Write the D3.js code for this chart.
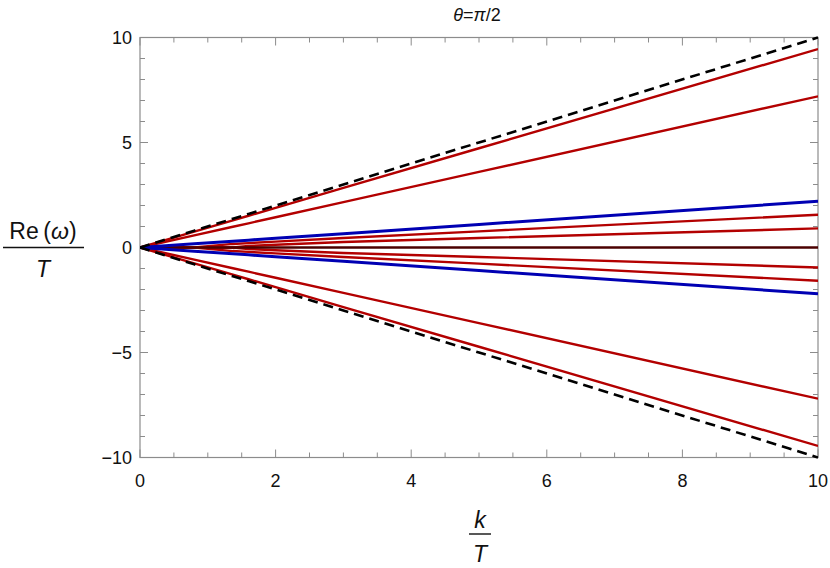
<!DOCTYPE html>
<html><head><meta charset="utf-8">
<script src="https://cdn.jsdelivr.net/npm/d3@7"></script>
<style>body{margin:0;background:#fff;} text{font-family:"Liberation Sans",Arial,sans-serif;}</style>
</head><body><svg id="c" width="830" height="568"></svg>
<script>
// Data
const kSamples = [0, 0.8, 1.37, 1.6, 2, 3, 5, 10];
const dashedUpper = [0, 0.8, 1.37, 1.6, 2, 3, 5, 10];
const dashedLower = [0, -0.8, -1.37, -1.6, -2, -3, -5, -10];
const redOuterUp = [0, 0.756, 1.295, 1.512, 1.89, 2.835, 4.725, 9.45];
const redOuterDn = [0, -0.756, -1.295, -1.512, -1.89, -2.835, -4.725, -9.45];
const redMidUp = [0, 0.576, 0.986, 1.152, 1.44, 2.16, 3.6, 7.2];
const redMidDn = [0, -0.576, -0.986, -1.152, -1.44, -2.16, -3.6, -7.2];
const blueUp = [0, 0.176, 0.30, 0.35, 0.44, 0.66, 1.1, 2.2];
const blueDn = [0, -0.176, -0.30, -0.35, -0.44, -0.66, -1.1, -2.2];
const redInnerAUp = [0, 0, 0.17, 0.21, 0.28, 0.45, 0.77, 1.56];
const redInnerADn = [0, 0, -0.17, -0.21, -0.28, -0.45, -0.77, -1.58];
const redInnerBUp = [0, 0, 0, 0.07, 0.13, 0.26, 0.45, 0.91];
const redInnerBDn = [0, 0, 0, -0.07, -0.13, -0.26, -0.45, -0.95];
const zeroLine = [0, 0, 0, 0, 0, 0, 0, 0];
const xTicks = [0, 2, 4, 6, 8, 10];
const yTicks = [-10, -5, 0, 5, 10];

const svg = d3.select("#c");
const L = 140, R = 818, T = 37.5, B = 457.5;
const x = d3.scaleLinear().domain([0, 10]).range([L, R]);
const y = d3.scaleLinear().domain([-10, 10]).range([B, T]);
const frameCol = "#8c8c8c";

// frame
svg.append("rect").attr("x", L).attr("y", T).attr("width", R - L).attr("height", B - T)
  .attr("fill", "none").attr("stroke", frameCol).attr("stroke-width", 1.2);

// ticks (inward on all sides)
const xMinor = d3.range(0, 10.001, 0.5).filter(v => Math.abs(v / 2 - Math.round(v / 2)) > 1e-6);
const yMinor = d3.range(-10, 10.001, 1).filter(v => v % 5 !== 0);
function tickLines(vals, len, isX) {
  vals.forEach(v => {
    if (isX) {
      svg.append("line").attr("x1", x(v)).attr("x2", x(v)).attr("y1", B).attr("y2", B - len).attr("stroke", frameCol);
      svg.append("line").attr("x1", x(v)).attr("x2", x(v)).attr("y1", T).attr("y2", T + len).attr("stroke", frameCol);
    } else {
      svg.append("line").attr("y1", y(v)).attr("y2", y(v)).attr("x1", L).attr("x2", L + len).attr("stroke", frameCol);
      svg.append("line").attr("y1", y(v)).attr("y2", y(v)).attr("x1", R).attr("x2", R - len).attr("stroke", frameCol);
    }
  });
}
tickLines(xTicks, 8, true);
tickLines(xMinor, 5, true);
tickLines(yTicks, 8, false);
tickLines(yMinor, 5, false);

// tick labels
svg.selectAll(".xl").data(xTicks).enter().append("text")
  .attr("x", d => x(d)).attr("y", B + 29).attr("text-anchor", "middle")
  .attr("font-size", 18).attr("fill", "#111").text(d => d);
svg.selectAll(".yl").data(yTicks).enter().append("text")
  .attr("x", L - 8).attr("y", d => y(d) + 6.5).attr("text-anchor", "end")
  .attr("font-size", 18).attr("fill", "#111").text(d => d === 0 ? "0" : (d < 0 ? "\u2212" + Math.abs(d) : d));

// series
const line = d3.line().x((d, i) => x(kSamples[i])).y(d => y(d));
svg.append("clipPath").attr("id", "clp").append("rect")
  .attr("x", L).attr("y", T - 2).attr("width", R - L).attr("height", B - T + 4);
const g = svg.append("g").attr("clip-path", "url(#clp)");
const red = "#b30000", blue = "#0000b3";
const series = [
  [redInnerBUp, red, 2.4], [redInnerBDn, red, 2.4],
  [redInnerAUp, red, 2.4], [redInnerADn, red, 2.4],
  [redMidUp, red, 2.4], [redMidDn, red, 2.4],
  [redOuterUp, red, 2.4], [redOuterDn, red, 2.4],
  [zeroLine, "#4a0000", 2.4],
  [blueUp, blue, 3], [blueDn, blue, 3]
];
series.forEach(s => g.append("path").attr("d", line(s[0])).attr("fill", "none")
  .attr("stroke", s[1]).attr("stroke-width", s[2]));
[dashedUpper, dashedLower].forEach(s => g.append("path").attr("d", line(s)).attr("fill", "none")
  .attr("stroke", "#000").attr("stroke-width", 2.6).attr("stroke-dasharray", "10,6"));

// title
const tt = svg.append("text").attr("x", 477).attr("y", 21).attr("text-anchor", "middle")
  .attr("font-size", 18).attr("fill", "#111");
tt.append("tspan").attr("font-style", "italic").text("\u03b8");
tt.append("tspan").text("=");
tt.append("tspan").attr("font-style", "italic").text("\u03c0");
tt.append("tspan").text("/2");

// y label (fraction)
const yl = svg.append("text").attr("x", 43).attr("y", 239).attr("text-anchor", "middle")
  .attr("font-size", 23).attr("fill", "#111");
yl.append("tspan").text("Re\u2009(");
yl.append("tspan").attr("font-style", "italic").text("\u03c9");
yl.append("tspan").text(")");
svg.append("line").attr("x1", 3).attr("x2", 84).attr("y1", 247.5).attr("y2", 247.5)
  .attr("stroke", "#111").attr("stroke-width", 1.4);
svg.append("text").attr("x", 43).attr("y", 277).attr("text-anchor", "middle")
  .attr("font-size", 23).attr("font-style", "italic").attr("fill", "#111").text("T");

// x label (fraction)
svg.append("text").attr("x", 480).attr("y", 528).attr("text-anchor", "middle")
  .attr("font-size", 23).attr("font-style", "italic").attr("fill", "#111").text("k");
svg.append("line").attr("x1", 469).attr("x2", 491).attr("y1", 534).attr("y2", 534)
  .attr("stroke", "#111").attr("stroke-width", 1.4);
svg.append("text").attr("x", 480).attr("y", 562).attr("text-anchor", "middle")
  .attr("font-size", 23).attr("font-style", "italic").attr("fill", "#111").text("T");
</script></body></html>
